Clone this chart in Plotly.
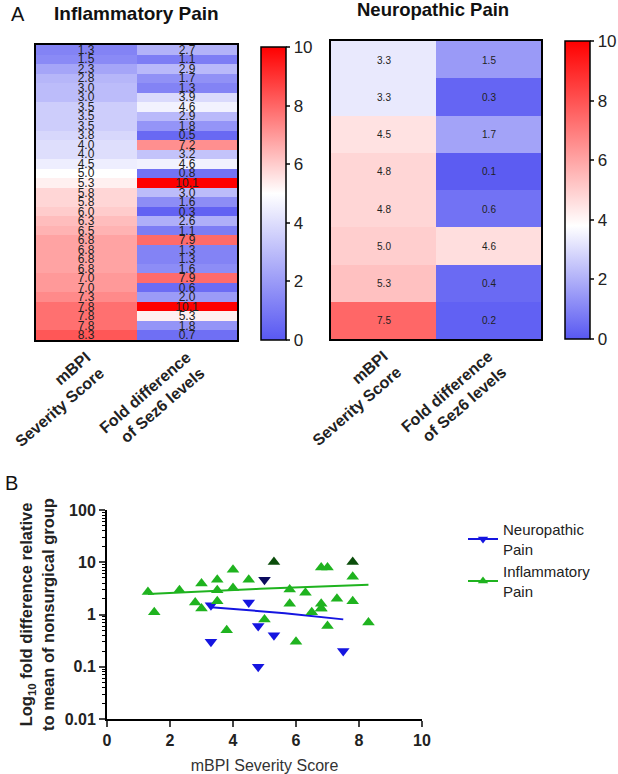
import numpy as np
import plotly.graph_objects as go

# ---------------- data ----------------
infl_mbpi = [1.3, 1.5, 2.3, 2.8, 3.0, 3.0, 3.5, 3.5, 3.5, 3.8, 4.0, 4.0, 4.5, 5.0, 5.3,
             5.8, 5.8, 6.0, 6.3, 6.5, 6.8, 6.8, 6.8, 6.8, 7.0, 7.0, 7.3, 7.8, 7.8, 7.8, 8.3]
infl_fold = [2.7, 1.1, 2.9, 1.7, 1.3, 3.9, 4.6, 2.9, 1.8, 0.5, 7.2, 3.2, 4.6, 0.8, 10.1,
             3.0, 1.6, 0.3, 2.6, 1.1, 7.9, 1.3, 1.3, 1.6, 7.9, 0.6, 2.0, 10.1, 5.3, 1.8, 0.7]
infl_flag = [0] * 14 + [1] + [0] * 12 + [1] + [0] * 3

neuro_mbpi = [3.3, 3.3, 4.5, 4.8, 4.8, 5.0, 5.3, 7.5]
neuro_fold = [1.5, 0.3, 1.7, 0.1, 0.6, 4.6, 0.4, 0.2]
neuro_flag = [0, 0, 0, 0, 0, 1, 0, 0]

col_labels = ["<b>mBPI<br>Severity Score</b>", "<b>Fold difference<br>of Sez6 levels</b>"]
cbar_ticks = [0, 2, 4, 6, 8, 10]
y_ticks = [0.01, 0.1, 1, 10, 100]
x_ticks = [0, 2, 4, 6, 8, 10]

W, H = 618, 774
FONT = "Liberation Sans, Arial, sans-serif"

BLUE0 = "rgb(88,88,242)"
GREEN = "#1fb31f"
BLUE = "#1515e0"


def px_x(a, b):
    return [a / W, b / W]


def px_y(top, bottom):
    return [1 - bottom / H, 1 - top / H]


fig = go.Figure()

# ---------------- heatmap 1 (inflammatory) ----------------
z1 = [[m, f] for m, f in zip(infl_mbpi, infl_fold)]
t1 = [["%.1f" % m, "%.1f" % f] for m, f in zip(infl_mbpi, infl_fold)]
rows1 = list(range(len(infl_mbpi)))
fig.add_trace(go.Heatmap(
    z=z1, x=col_labels, y=rows1, text=t1, texttemplate="%{text}",
    textfont=dict(size=12, color="#222", family=FONT),
    zmin=0, zmax=10,
    colorscale=[[0, BLUE0], [0.5, "rgb(255,255,255)"], [1, "rgb(255,0,0)"]],
    xaxis="x", yaxis="y",
    colorbar=dict(x=261 / W, xanchor="left", thickness=25, len=(340 - 47) / H,
                  y=1 - (47 + 340) / 2 / H, yanchor="middle",
                  tickvals=cbar_ticks, ticks="outside", ticklen=4, tickwidth=1.5,
                  outlinewidth=1.5, outlinecolor="black", xpad=0, ypad=0,
                  tickfont=dict(size=17, family=FONT, color="#222")),
    hoverinfo="skip"))

# ---------------- heatmap 2 (neuropathic) ----------------
z2 = [[m, f] for m, f in zip(neuro_mbpi, neuro_fold)]
t2 = [["%.1f" % m, "%.1f" % f] for m, f in zip(neuro_mbpi, neuro_fold)]
rows2 = list(range(len(neuro_mbpi)))
fig.add_trace(go.Heatmap(
    z=z2, x=col_labels, y=rows2, text=t2, texttemplate="%{text}",
    textfont=dict(size=10, color="#222", family=FONT),
    zmin=0, zmax=10,
    colorscale=[[0, BLUE0], [0.38, "rgb(255,255,255)"], [1, "rgb(255,0,0)"]],
    xaxis="x2", yaxis="y2",
    colorbar=dict(x=565 / W, xanchor="left", thickness=25, len=(339 - 41) / H,
                  y=1 - (41 + 339) / 2 / H, yanchor="middle",
                  tickvals=cbar_ticks, ticks="outside", ticklen=4, tickwidth=1.5,
                  outlinewidth=1.5, outlinecolor="black", xpad=0, ypad=0,
                  tickfont=dict(size=17, family=FONT, color="#222")),
    hoverinfo="skip"))

# ---------------- scatter ----------------
def fit_line(xs, ys):
    k, b = np.polyfit(xs, ys, 1)
    xx = np.linspace(min(xs), max(xs), 60)
    return xx, k * xx + b


nx, ny = fit_line(neuro_mbpi, neuro_fold)
ix, iy = fit_line(infl_mbpi, infl_fold)

fig.add_trace(go.Scatter(x=nx, y=ny, mode="lines", line=dict(color=BLUE, width=2),
                         xaxis="x3", yaxis="y3", showlegend=False, hoverinfo="skip"))
fig.add_trace(go.Scatter(x=ix, y=iy, mode="lines", line=dict(color=GREEN, width=2),
                         xaxis="x3", yaxis="y3", showlegend=False, hoverinfo="skip"))

fig.add_trace(go.Scatter(
    x=neuro_mbpi, y=neuro_fold, mode="markers",
    marker=dict(symbol="triangle-down", size=11,
                color=["#0b0b5e" if f else BLUE for f in neuro_flag]),
    xaxis="x3", yaxis="y3", showlegend=False, hoverinfo="skip"))
fig.add_trace(go.Scatter(
    x=infl_mbpi, y=infl_fold, mode="markers",
    marker=dict(symbol="triangle-up", size=11,
                color=["#0b4d0b" if f else GREEN for f in infl_flag]),
    xaxis="x3", yaxis="y3", showlegend=False, hoverinfo="skip"))

# legend entries
fig.add_trace(go.Scatter(x=[None], y=[None], mode="lines+markers", name="Neuropathic<br>Pain",
                         line=dict(color=BLUE, width=2),
                         marker=dict(symbol="triangle-down", size=9, color=BLUE),
                         xaxis="x3", yaxis="y3"))
fig.add_trace(go.Scatter(x=[None], y=[None], mode="lines+markers", name="Inflammatory<br>Pain",
                         line=dict(color=GREEN, width=2),
                         marker=dict(symbol="triangle-up", size=9, color=GREEN),
                         xaxis="x3", yaxis="y3"))

hm_axis = dict(showline=True, linewidth=1.8, linecolor="black", mirror=True,
               showgrid=False, zeroline=False, ticks="", automargin=False)

fig.update_layout(
    width=W, height=H, margin=dict(l=0, r=0, t=0, b=0, autoexpand=False),
    paper_bgcolor="white", plot_bgcolor="white",
    font=dict(family=FONT, color="#222"),
    xaxis=dict(domain=px_x(36, 237), tickangle=-41, anchor="y",
               tickfont=dict(size=16, family=FONT, color="#222"), **hm_axis),
    yaxis=dict(domain=px_y(45, 340), autorange="reversed", showticklabels=False,
               anchor="x", **hm_axis),
    xaxis2=dict(domain=px_x(331, 541), tickangle=-41, anchor="y2",
                tickfont=dict(size=16, family=FONT, color="#222"), **hm_axis),
    yaxis2=dict(domain=px_y(41, 339), autorange="reversed", showticklabels=False,
                anchor="x2", **hm_axis),
    xaxis3=dict(domain=px_x(107, 422), anchor="y3", range=[0, 10], tickvals=x_ticks,
                ticktext=["<b>%d</b>" % v for v in x_ticks], automargin=False,
                showline=True, linewidth=2, linecolor="black", ticks="outside",
                ticklen=6, tickwidth=2, showgrid=False, zeroline=False,
                tickfont=dict(size=16, family=FONT, color="#222"),
                title=dict(text="mBPI Severity Score", font=dict(size=16, family=FONT, color="#333"),
                           standoff=12)),
    yaxis3=dict(domain=px_y(510, 719), anchor="x3", type="log", range=[-2, 2],
                tickvals=y_ticks, ticktext=["<b>%g</b>" % v for v in y_ticks], automargin=False,
                showline=True, linewidth=2, linecolor="black", ticks="outside",
                ticklen=6, tickwidth=2, showgrid=False, zeroline=False,
                minor=dict(ticks="outside", ticklen=3, tickwidth=1, tickcolor="black", dtick="D1"),
                tickfont=dict(size=16, family=FONT, color="#222"),
                title=dict(text="<b>Log<sub>10</sub> fold difference relative<br>to mean of nonsurgical group</b>",
                           font=dict(size=16.5, family=FONT, color="#222"), standoff=6)),
    legend=dict(x=463 / W, y=1 - 513 / H, xanchor="left", yanchor="top",
                font=dict(size=15, family=FONT, color="#222"), tracegroupgap=10,
                itemwidth=30, bgcolor="rgba(0,0,0,0)"),
)

annos = [
    dict(text="A", x=9 / W, y=1 - 14 / H, font=dict(size=20)),
    dict(text="<b>Inflammatory Pain</b>", x=52 / W, y=1 - 14 / H, font=dict(size=19)),
    dict(text="<b>Neuropathic Pain</b>", x=355 / W, y=1 - 10 / H, font=dict(size=18.5)),
    dict(text="B", x=3 / W, y=1 - 483 / H, font=dict(size=20)),
]
for a in annos:
    fig.add_annotation(xref="paper", yref="paper", xanchor="left", yanchor="middle",
                       showarrow=False, x=a["x"], y=a["y"], text=a["text"],
                       font=dict(family=FONT, color="#111", size=a["font"]["size"]))

fig.write_html("out.html", config={"displayModeBar": False},
               post_script="document.body.style.margin='0';document.body.style.padding='0';")
